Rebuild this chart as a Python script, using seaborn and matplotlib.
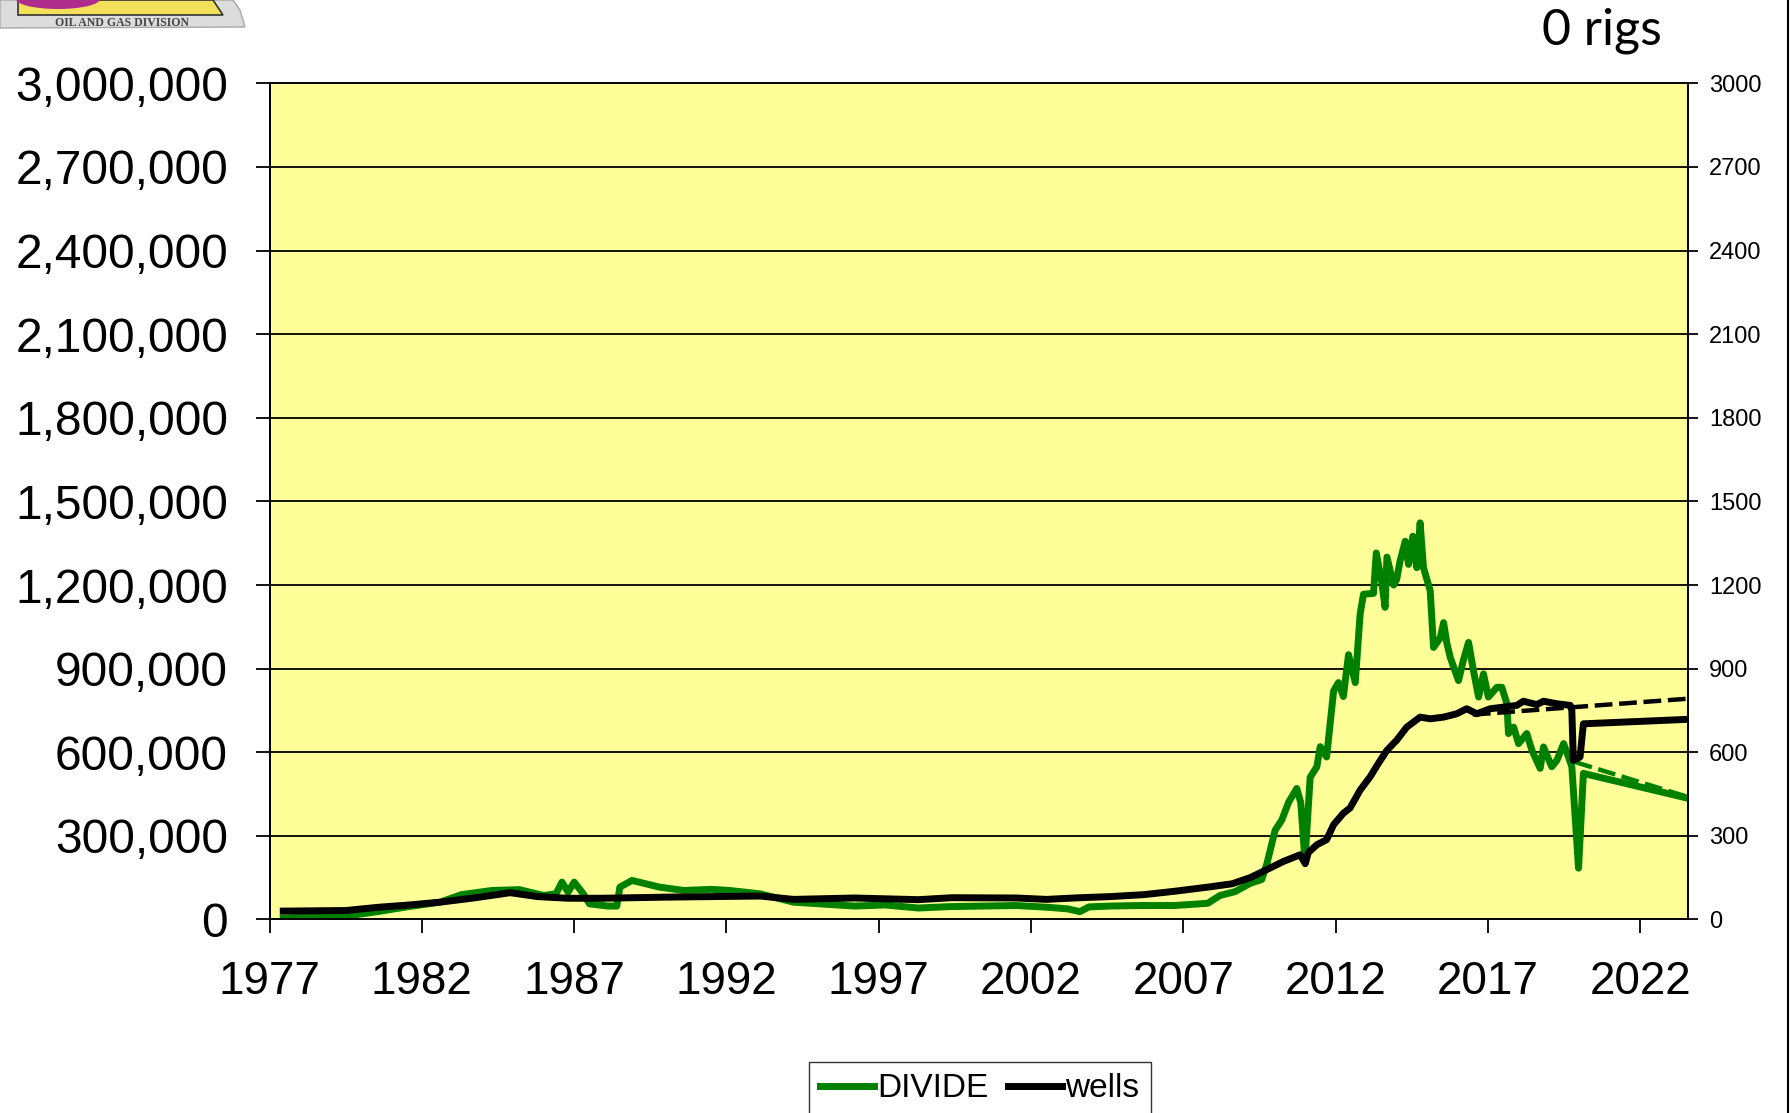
import seaborn as sns
import matplotlib.pyplot as plt
from matplotlib.patches import Polygon, Ellipse
from matplotlib.ticker import FuncFormatter

# DIVIDE county monthly oil production (left axis)
divide_year = [1977.45, 1978.5, 1979.5, 1980.6, 1981.5, 1982.6, 1983.3, 1984.3, 1985.2, 1986.0,
               1986.4, 1986.6, 1986.8, 1987.0, 1987.3, 1987.5, 1988.1, 1988.4, 1988.5, 1988.9,
               1989.8, 1990.6, 1991.5, 1992.1, 1993.1, 1994.2, 1995.2, 1996.2, 1997.2, 1998.3,
               1999.3, 2000.4, 2001.5, 2002.5, 2003.2, 2003.6, 2003.9, 2004.6, 2005.6, 2006.7,
               2007.8, 2008.2, 2008.7, 2009.2, 2009.57, 2009.74, 2010.01, 2010.23, 2010.45, 2010.72,
               2010.85, 2010.99, 2011.16, 2011.38, 2011.49, 2011.7, 2011.93, 2012.09, 2012.25, 2012.42,
               2012.64, 2012.8, 2012.91, 2013.24, 2013.33, 2013.51, 2013.62, 2013.68, 2013.9, 2014.0,
               2014.11, 2014.28, 2014.39, 2014.53, 2014.66, 2014.77, 2014.88, 2015.1, 2015.21, 2015.43,
               2015.54, 2015.65, 2015.76, 2016.03, 2016.19, 2016.36, 2016.52, 2016.69, 2016.85, 2017.01,
               2017.29, 2017.45, 2017.62, 2017.67, 2017.84, 2018.0, 2018.27, 2018.44, 2018.71, 2018.82,
               2019.09, 2019.26, 2019.48, 2019.64, 2019.75, 2019.97, 2020.13, 2023.55]
divide_oil = [5000, 10000, 12000, 29000, 45000, 62000, 89000, 104000, 107000, 86000,
              92000, 134000, 98000, 134000, 92000, 56000, 48000, 48000, 116000, 140000,
              116000, 104000, 108000, 104000, 92000, 62000, 55000, 48000, 52000, 41000,
              46000, 48000, 50000, 44000, 38000, 28000, 45000, 48000, 50000, 50000,
              58000, 86000, 100000, 130000, 143000, 200000, 320000, 357000, 420000, 470000,
              420000, 210000, 510000, 548000, 620000, 583000, 820000, 850000, 800000, 950000,
              850000, 1095000, 1167000, 1170000, 1315000, 1210000, 1120000, 1300000, 1200000, 1220000,
              1285000, 1357000, 1274000, 1375000, 1262000, 1423000, 1262000, 1180000, 976000, 1010000,
              1065000, 990000, 940000, 857000, 930000, 994000, 893000, 798000, 881000, 798000,
              833000, 833000, 774000, 667000, 690000, 631000, 667000, 607000, 542000, 619000,
              548000, 571000, 631000, 583000, 548000, 184000, 524000, 435000]

# producing wells (right axis)
wells_year = [1977.45, 1979.5, 1980.6, 1981.6, 1982.6, 1983.7, 1984.9, 1985.8, 1986.8, 1987.9,
              1990.0, 1993.1, 1994.2, 1996.2, 1998.3, 1999.4, 2001.5, 2002.5, 2003.6, 2004.6,
              2005.7, 2006.7, 2007.8, 2008.6, 2009.19, 2009.74, 2010.28, 2010.83, 2011.0, 2011.1,
              2011.38, 2011.7, 2011.93, 2012.25, 2012.47, 2012.8, 2013.13, 2013.4, 2013.68, 2014.0,
              2014.33, 2014.77, 2015.1, 2015.54, 2015.97, 2016.3, 2016.63, 2017.07, 2017.51, 2017.94,
              2018.16, 2018.6, 2018.82, 2019.26, 2019.7, 2019.75, 2019.8, 2020.02, 2020.13, 2023.55]
wells_count = [30, 32, 44, 52, 62, 77, 96, 82, 76, 76,
               80, 84, 72, 77, 71, 78, 77, 72, 78, 82,
               89, 101, 116, 128, 150, 179, 208, 232, 200, 240,
               268, 286, 340, 381, 400, 464, 512, 560, 607, 643,
               690, 726, 720, 726, 738, 756, 738, 756, 762, 768,
               783, 771, 783, 774, 768, 750, 571, 583, 702, 718]

# trend lines
oil_trend_year = [2019.85, 2023.55]
oil_trend = [565000, 440000]
wells_trend_year = [2016.5, 2023.55]
wells_trend = [735, 792]

year_ticks = list(range(1977, 2023, 5))
left_ticks = list(range(0, 3000001, 300000))
right_ticks = list(range(0, 3001, 300))

plt.rcParams['font.family'] = ['Liberation Sans', 'DejaVu Sans']

fig = plt.figure(figsize=(17.91, 11.13), dpi=100)
ax = fig.add_axes([0.1505, 0.1739, 0.7921, 0.7512])
ax.set_facecolor('#FFFF99')
ax2 = ax.twinx()

sns.lineplot(x=divide_year, y=divide_oil, ax=ax, color='#008000', linewidth=5, label='DIVIDE', legend=False)
sns.lineplot(x=oil_trend_year, y=oil_trend, ax=ax, color='#008000', linewidth=3.2, linestyle=(0, (4, 1.5)), legend=False)
sns.lineplot(x=wells_year, y=wells_count, ax=ax2, color='black', linewidth=5, label='wells', legend=False)
sns.lineplot(x=wells_trend_year, y=wells_trend, ax=ax2, color='black', linewidth=3.2, linestyle=(0, (4, 1.5)), legend=False)

ax.set_xlim(1977, 2023.57)
ax.set_ylim(0, 3000000)
ax2.set_ylim(0, 3000)
ax.set_xticks(year_ticks)
ax.set_yticks(left_ticks)
ax2.set_yticks(right_ticks)
ax.yaxis.set_major_formatter(FuncFormatter(lambda v, p: f'{int(v):,}'))
ax.grid(axis='y', color='black', linewidth=1.3)
ax.set_axisbelow(True)
ax.set_xlabel('')
ax.set_ylabel('')
ax2.set_ylabel('')

ax.tick_params(axis='y', direction='out', length=10, width=1.3, labelsize=34.5, pad=20)
ax.tick_params(axis='x', direction='out', length=10, width=1.3, labelsize=33, pad=19)
ax2.tick_params(axis='y', direction='out', length=7, width=1.3, labelsize=17, pad=8)
for a in (ax, ax2):
    for s in a.spines.values():
        s.set_color('black')
        s.set_linewidth(1.3)
ax.spines['top'].set_color('#555555')

# rigs note
fig.text(1662 / 1791, 1 - 31 / 1113, '0 rigs', ha='right', va='center', fontsize=36,
         family=['Lato', 'DejaVu Sans'])

# right frame edge
fig.add_artist(plt.Line2D([1788 / 1791, 1788 / 1791], [0, 1], color='black', linewidth=1.5))

# small agency logo in the corner
logo = fig.add_axes([0, 1 - 30 / 1113, 250 / 1791, 30 / 1113])
logo.set_xlim(0, 250)
logo.set_ylim(30, 0)
logo.axis('off')
logo.add_patch(Polygon([(0, 0), (233, 0), (240, 10), (245, 27), (0, 28)], closed=True,
                       facecolor='#dcdcdc', edgecolor='#a8a8a8', linewidth=1))
logo.add_patch(Polygon([(18, 0), (213, 0), (223, 15), (18, 15)], closed=True,
                       facecolor='#f2e05a', edgecolor='#333333', linewidth=1.2))
logo.add_patch(Ellipse((58, -1), 84, 20, facecolor='#b02c8c', edgecolor='none'))
logo.text(122, 23, 'OIL AND GAS DIVISION', ha='center', va='center', fontsize=8.5,
          fontweight='bold', color='#444444', family=['Liberation Serif', 'DejaVu Serif'])

h1, l1 = ax.get_legend_handles_labels()
h2, l2 = ax2.get_legend_handles_labels()
fig.legend(h1 + h2, l1 + l2, loc='upper center', bbox_to_anchor=(0.547, 0.061), ncol=2,
           fontsize=24, handlelength=1.6, handletextpad=0.1, columnspacing=0.6,
           frameon=True, fancybox=False, edgecolor='#333333', framealpha=1, borderpad=0.35)

plt.savefig('out.png', dpi=100)
plt.close()
